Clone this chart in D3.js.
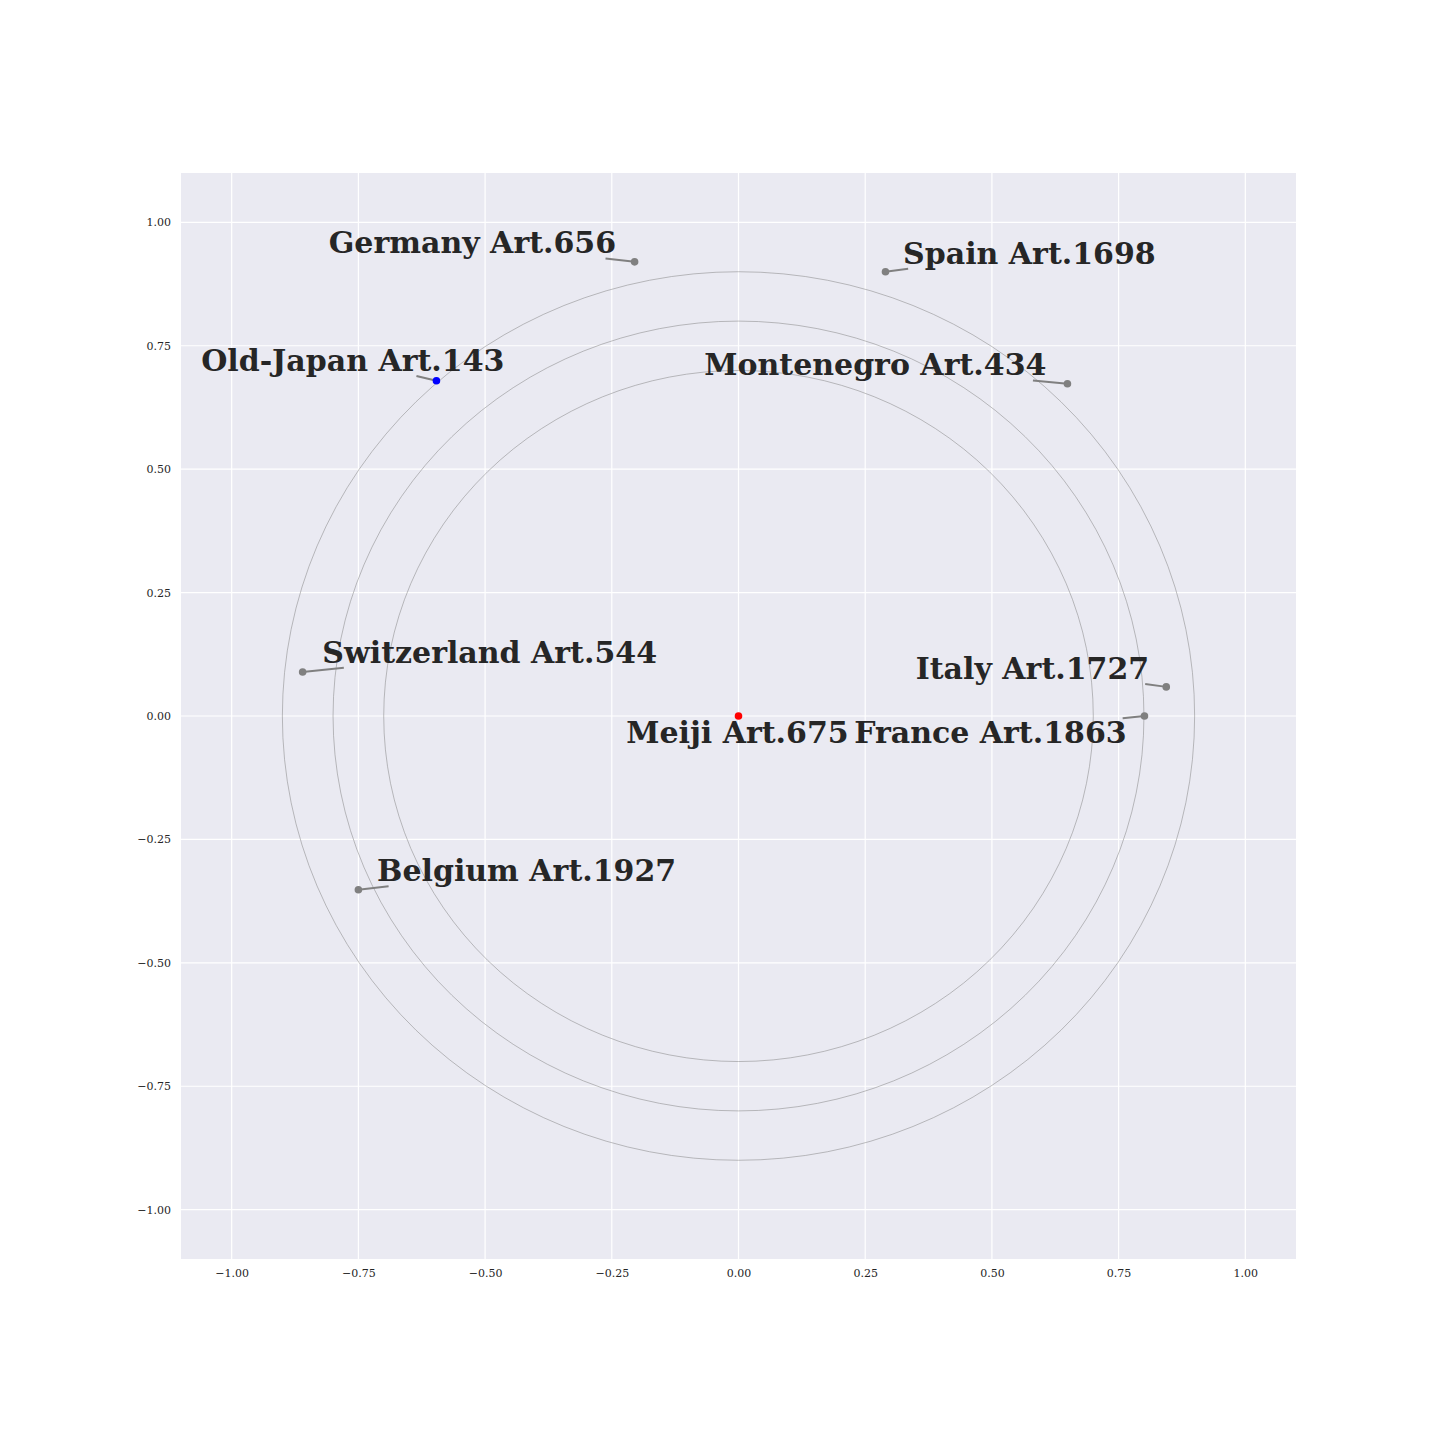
<!DOCTYPE html>
<html><head><meta charset="utf-8">
<script src="https://d3js.org/d3.v7.min.js"></script>
<style>body{margin:0;background:#fff}</style>
</head><body>
<script>
const names = ["Meiji Art.675","Old-Japan Art.143","Germany Art.656","Spain Art.1698","Montenegro Art.434","Switzerland Art.544","Italy Art.1727","France Art.1863","Belgium Art.1927"];
const xs = [0, -0.596, -0.205, 0.290, 0.649, -0.860, 0.844, 0.801, -0.750];
const ys = [0, 0.679, 0.920, 0.900, 0.673, 0.089, 0.059, 0.000, -0.352];
const colors = ["red","blue","grey","grey","grey","grey","grey","grey","grey"];
// label anchor (text centre x, baseline y) in data units
const labelX = [-0.002, -0.761, -0.525, 0.574, 0.270, -0.491, 0.580, 0.497, -0.418];
const labelY = [-0.054, 0.699, 0.937, 0.916, 0.690, 0.108, 0.074, -0.054, -0.335];
const radii = [0.7, 0.8, 0.9];
const ticks = [-1.00,-0.75,-0.50,-0.25,0.00,0.25,0.50,0.75,1.00];

const W=1440,H=1440;
const svg=d3.select("body").append("svg").attr("width",W).attr("height",H);
const x=d3.scaleLinear().domain([-1.1,1.1]).range([181,1296]);
const y=d3.scaleLinear().domain([-1.1,1.1]).range([1259,173]);
const fmt=d=>d3.format(".2f")(d).replace("-","\u2212");

svg.append("rect").attr("x",181).attr("y",173).attr("width",1115).attr("height",1086).attr("fill","#EAEAF2");
const gx=svg.append("g").attr("transform","translate(0,1259)").call(d3.axisBottom(x).tickValues(ticks).tickFormat(fmt).tickSize(0).tickPadding(10));
gx.select(".domain").remove();
gx.selectAll("text").attr("font-family","DejaVu Serif").attr("font-size",11).attr("fill","#262626");
const gy=svg.append("g").attr("transform","translate(181,0)").call(d3.axisLeft(y).tickValues(ticks).tickFormat(fmt).tickSize(0).tickPadding(10));
gy.select(".domain").remove();
gy.selectAll("text").attr("font-family","DejaVu Serif").attr("font-size",11).attr("fill","#262626");
// grid
svg.append("g").selectAll("line").data(ticks).join("line")
 .attr("x1",d=>x(d)).attr("x2",d=>x(d)).attr("y1",173).attr("y2",1259).attr("stroke","#fff").attr("stroke-width",1.2);
svg.append("g").selectAll("line").data(ticks).join("line")
 .attr("y1",d=>y(d)).attr("y2",d=>y(d)).attr("x1",181).attr("x2",1296).attr("stroke","#fff").attr("stroke-width",1.2);
// circles
svg.append("g").selectAll("ellipse").data(radii).join("ellipse")
 .attr("cx",x(0)).attr("cy",y(0)).attr("rx",d=>x(d)-x(0)).attr("ry",d=>y(0)-y(d))
 .attr("fill","none").attr("stroke","grey").attr("stroke-width",0.5);

const data=names.map((n,i)=>({n,x:xs[i],y:ys[i],c:colors[i],lx:labelX[i],ly:labelY[i]}));
const lineG=svg.append("g");
const texts=svg.append("g").selectAll("text").data(data).join("text")
 .attr("x",d=>x(d.lx)).attr("y",d=>y(d.ly)).attr("text-anchor","middle")
 .attr("font-family","DejaVu Serif").attr("font-weight","bold").attr("font-size",30).attr("fill","#262626")
 .text(d=>d.n);
texts.each(function(d){
  if(d.c!=="grey" && d.c!=="blue") return;
  const b=this.getBBox();
  const hw=b.width/2-4, hh=b.height/2-2;
  const cx=b.x+b.width/2, cy=b.y+b.height/2;
  const px=x(d.x), py=y(d.y);
  const dx=px-cx, dy=py-cy;
  let t=1;
  if(dx!==0) t=Math.min(t,hw/Math.abs(dx));
  if(dy!==0) t=Math.min(t,hh/Math.abs(dy));
  if(t>=1) return;
  lineG.append("line").attr("x1",cx+dx*t).attr("y1",cy+dy*t).attr("x2",px).attr("y2",py)
   .attr("stroke","grey").attr("stroke-width",2);
});
svg.append("g").selectAll("circle").data(data).join("circle")
 .attr("cx",d=>x(d.x)).attr("cy",d=>y(d.y)).attr("r",3.8).attr("fill",d=>d.c);
</script>
</body></html>
